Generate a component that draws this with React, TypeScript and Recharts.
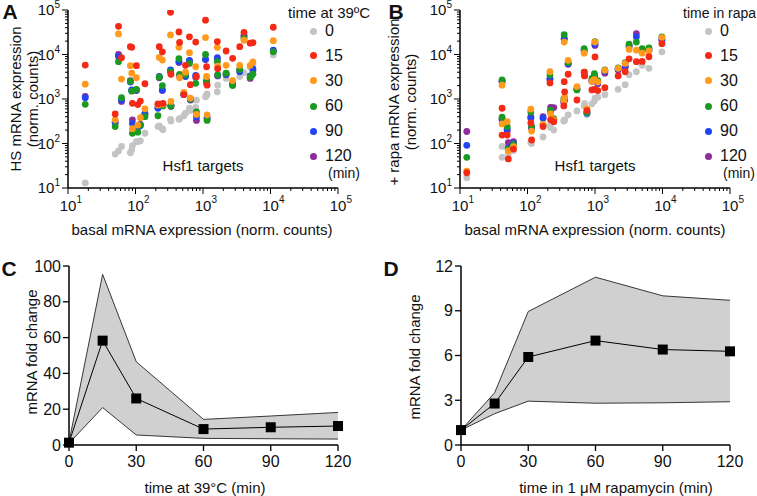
import React from 'react';
import { ScatterChart, Scatter, XAxis, YAxis, ComposedChart, Area, Line } from 'recharts';

const FONT = '"Liberation Sans", Arial, Helvetica, sans-serif';

// legend / series
const timeLabels = ['0', '15', '30', '60', '90', '120'];
const seriesColors = ['#c4c4c4', '#f42a16', '#ff9a1c', '#1a9a22', '#1f45f5', '#8e2c9c'];
// draw order: gray underneath, red on top
const drawOrder = [0, 5, 4, 3, 2, 1];

// A: heat shock, Hsf1 targets (basal vs HS expression)
const basalA = [18, 50, 56, 62, 84, 88, 90, 103, 108, 118, 138, 215, 225, 250, 255, 330, 335, 440, 450, 520, 550, 630, 650, 780, 800, 1090, 1130, 1150, 1630, 1650, 2200, 2750, 3500, 4050, 5000, 5500, 11000];
const hsA0 = [13, 58, 68, 86, 62, 72, 90, 110, 110, 115, 170, 240, 250, 215, 205, 350, 320, 350, 360, 420, 480, 620, 550, 650, 940, 1120, 1200, 1300, 1450, 2050, 2900, 2600, 3200, 3900, 5200, 6000, 9800];
const hsA15 = [5800, 460, 43000, 8500, 15000, 14500, 800, 5600, 750, 900, 2200, 780, 15000, 11500, 800, 89000, 3600, 32000, 18600, 1260, 5700, 25000, 2100, 19000, 3200, 59000, 5300, 2050, 19500, 4800, 12000, 8200, 15000, 31500, 18000, 18500, 41000];
const hsA30 = [2150, 340, 29000, 2800, 5600, 3800, 215, 3000, 260, 380, 600, 730, 8600, 7500, 760, 27500, 880, 14500, 3000, 1400, 4000, 11000, 1050, 5300, 450, 24000, 3200, 440, 14500, 5500, 5700, 2600, 5700, 21000, 5700, 6800, 20500];
const hsA60 = [760, 240, 6900, 1070, 2500, 1500, 170, 1650, 180, 260, 400, 420, 3100, 2000, 700, 4100, 700, 8100, 3550, 1300, 3500, 6300, 1000, 2250, 510, 10000, 2450, 330, 6900, 3500, 3800, 2000, 4600, 23000, 3100, 3600, 11500];
const hsA90 = [1070, 290, 9000, 950, 2400, 1600, 280, 1600, 240, 250, 460, 620, 3200, 1600, 720, 4500, 720, 7000, 3400, 1250, 3200, 7400, 980, 3400, 400, 7800, 2600, 380, 8500, 3400, 3600, 2100, 4100, 27000, 3300, 4800, 12500];
const hsA120 = [1150, 310, 10000, 880, 2600, 1550, 340, 1550, 230, 270, 470, 660, 3000, 1550, 740, 4300, 680, 6600, 3300, 1300, 3300, 7000, 950, 3100, 330, 7700, 2300, 360, 7800, 3300, 3500, 2200, 4500, 25000, 2900, 4300, 12000];

// B: rapamycin, Hsf1 targets
const basalB = [12.6, 42, 42, 50, 52, 62, 112, 115, 170, 215, 220, 245, 345, 350, 355, 400, 540, 690, 700, 760, 900, 980, 1000, 1100, 1400, 2200, 2800, 3200, 4100, 5000, 6300, 9800];
const rapaB0 = [17, 49, 86, 80, 59, 70, 105, 100, 140, 250, 230, 200, 320, 330, 340, 440, 540, 700, 800, 440, 780, 900, 1050, 1100, 1250, 1650, 2100, 3500, 4100, 5700, 4900, 11500];
const rapaB15 = [22, 155, 620, 155, 45, 75, 290, 120, 240, 2300, 340, 310, 700, 2450, 1450, 3600, 950, 4000, 3300, 550, 1600, 1650, 8800, 1550, 1800, 3300, 4100, 8000, 6900, 7000, 8900, 17500];
const rapaB30 = [24, 275, 2050, 310, 68, 85, 590, 190, 270, 4100, 460, 340, 900, 19000, 1100, 7400, 1900, 10700, 3800, 600, 2500, 2750, 19000, 2400, 4400, 4900, 6300, 13000, 12500, 10700, 12000, 24000];
const rapaB60 = [49, 390, 2700, 240, 75, 95, 510, 240, 265, 3500, 560, 360, 1000, 28000, 1000, 6500, 1600, 13500, 4000, 500, 2900, 3700, 19500, 2600, 4500, 5000, 6600, 17000, 19000, 13500, 14000, 25000];
const rapaB90 = [91, 340, 2500, 210, 80, 100, 370, 230, 370, 2900, 520, 340, 880, 23000, 1050, 6200, 1650, 12500, 3500, 480, 2600, 3300, 17000, 2300, 4200, 4700, 5500, 16000, 25000, 12700, 13000, 22000];
const rapaB120 = [186, 360, 2550, 190, 105, 110, 400, 220, 400, 2700, 650, 640, 850, 22000, 950, 6000, 1700, 12000, 3400, 520, 2500, 3200, 16000, 2200, 3800, 4500, 5200, 15000, 29500, 12800, 12500, 21000];

// C: heat shock fold change
const timeC = [0, 15, 30, 60, 90, 120];
const meanC = [1.3, 58.3, 26, 8.9, 9.9, 10.6];
const lowC = [1, 20.9, 5.6, 3.7, 3.5, 3.3];
const highC = [1.6, 95.3, 46.5, 14.3, 16.2, 18.2];

// D: rapamycin fold change
const timeD = [0, 15, 30, 60, 90, 120];
const meanD = [1.0, 2.78, 5.9, 7.0, 6.4, 6.28];
const lowD = [1.0, 2.1, 2.94, 2.8, 2.83, 2.9];
const highD = [1.0, 3.5, 8.95, 11.25, 10.0, 9.7];

const timeTicks = [0, 30, 60, 90, 120];
const ticksC = [0, 20, 40, 60, 80, 100];
const ticksD = [0, 3, 6, 9, 12];
const logMajor = [10, 100, 1000, 10000, 100000];
const logTicks = logMajor.flatMap((m, i) =>
  i === logMajor.length - 1 ? [m] : [1, 2, 3, 4, 5, 6, 7, 8, 9].map((k) => k * m)
);

const seriesA = [hsA0, hsA15, hsA30, hsA60, hsA90, hsA120];
const seriesB = [rapaB0, rapaB15, rapaB30, rapaB60, rapaB90, rapaB120];

const toPoints = (basal: number[], vals: number[]) => basal.map((x, i) => ({ x, y: vals[i] }));
const toRows = (t: number[], mean: number[], low: number[], high: number[]) =>
  t.map((v, i) => ({ t: v, mean: mean[i], band: [low[i], high[i]] }));

const isMajor = (v: number) => {
  const lg = Math.log10(v);
  return Math.abs(lg - Math.round(lg)) < 1e-6;
};

const LogXTick = (props: any) => {
  const { x, y, payload } = props;
  const major = isMajor(payload.value);
  const e = Math.round(Math.log10(payload.value));
  return (
    <g>
      <line x1={x} x2={x} y1={y} y2={y + (major ? 6 : 3)} stroke="#000" strokeWidth={1} />
      {major && (
        <g fill="#111">
          <text x={x} y={y + 23} textAnchor="middle" fontSize={15}>10</text>
          <text x={x + 8.5} y={y + 15} fontSize={10}>{e}</text>
        </g>
      )}
    </g>
  );
};

const LogYTick = (props: any) => {
  const { x, y, payload } = props;
  const major = isMajor(payload.value);
  const e = Math.round(Math.log10(payload.value));
  return (
    <g>
      <line x1={x} x2={x - (major ? 6 : 3)} y1={y} y2={y} stroke="#000" strokeWidth={1} />
      {major && (
        <text x={x - 8} y={y + 5} textAnchor="end" fontSize={15} fill="#111">
          <tspan>10</tspan>
          <tspan dy={-7} fontSize={10}>{e}</tspan>
        </text>
      )}
    </g>
  );
};

const SquareDot = (p: any) => (
  <rect key={`sq-${p.index}`} x={p.cx - 5} y={p.cy - 5} width={10} height={10} fill="#000" />
);

type TxtProps = {
  x: number;
  y: number;
  size?: number;
  bold?: boolean;
  rotate?: boolean;
  left?: boolean;
  lh?: number;
  children: React.ReactNode;
};

function Txt({ x, y, size = 15, bold, rotate, left, lh, children }: TxtProps) {
  return (
    <div
      style={{
        position: 'absolute',
        left: x,
        top: y,
        transform: `translate(${left ? '0' : '-50%'}, -50%)${rotate ? ' rotate(-90deg)' : ''}`,
        fontSize: size,
        fontWeight: bold ? 700 : 400,
        whiteSpace: 'pre',
        textAlign: 'center',
        lineHeight: lh ? `${lh}px` : 1.15,
        color: '#111',
      }}
    >
      {children}
    </div>
  );
}

function LogScatter({ basal, series, yAxisWidth, right }: { basal: number[]; series: number[][]; yAxisWidth: number; right: number }) {
  return (
    <ScatterChart width={yAxisWidth + 270 + right} height={218} margin={{ top: 10, right, bottom: 0, left: 0 }}>
      <XAxis
        dataKey="x"
        type="number"
        scale="log"
        domain={[10, 100000]}
        allowDataOverflow
        ticks={logTicks}
        interval={0}
        tick={<LogXTick />}
        tickLine={false}
        tickSize={0}
        tickMargin={0}
        height={30}
        axisLine={{ stroke: '#000', strokeWidth: 1.5 }}
      />
      <YAxis
        dataKey="y"
        type="number"
        scale="log"
        domain={[10, 100000]}
        allowDataOverflow
        ticks={logTicks}
        interval={0}
        tick={<LogYTick />}
        tickLine={false}
        tickSize={0}
        tickMargin={0}
        width={yAxisWidth}
        axisLine={{ stroke: '#000', strokeWidth: 1.5 }}
      />
      {drawOrder.map((i) => (
        <Scatter
          key={timeLabels[i]}
          name={timeLabels[i]}
          data={toPoints(basal, series[i])}
          fill={seriesColors[i]}
          isAnimationActive={false}
          shape={(p: any) => <circle cx={p.cx} cy={p.cy} r={3.4} fill={seriesColors[i]} />}
        />
      ))}
    </ScatterChart>
  );
}

function FoldChart({ rows, yTicks, yMax, yAxisWidth, right }: { rows: any[]; yTicks: number[]; yMax: number; yAxisWidth: number; right: number }) {
  return (
    <ComposedChart width={yAxisWidth + 269 + right} height={220} data={rows} margin={{ top: 16, right, bottom: 0, left: 0 }}>
      <XAxis
        dataKey="t"
        type="number"
        domain={[0, 120]}
        ticks={timeTicks}
        interval={0}
        height={25}
        tickSize={6}
        tickMargin={5}
        tick={{ fontSize: 16, fill: '#111' }}
        tickLine={{ stroke: '#000', strokeWidth: 1.3 }}
        axisLine={{ stroke: '#000', strokeWidth: 1.5 }}
      />
      <YAxis
        type="number"
        domain={[0, yMax]}
        ticks={yTicks}
        interval={0}
        width={yAxisWidth}
        tickSize={6}
        tickMargin={2}
        tick={{ fontSize: 16, fill: '#111' }}
        tickLine={{ stroke: '#000', strokeWidth: 1.3 }}
        axisLine={{ stroke: '#000', strokeWidth: 1.5 }}
      />
      <Area
        dataKey="band"
        type="linear"
        stroke="#222"
        strokeWidth={0.9}
        fill="#d0d0d0"
        fillOpacity={1}
        isAnimationActive={false}
        activeDot={false}
      />
      <Line
        dataKey="mean"
        type="linear"
        stroke="#000"
        strokeWidth={1}
        dot={SquareDot}
        activeDot={false}
        isAnimationActive={false}
      />
    </ComposedChart>
  );
}

function Legend({ x, title, titleSize }: { x: number; title: string; titleSize: number }) {
  const rows = [31, 55.5, 80.5, 106, 131, 156];
  return (
    <>
      <Txt x={x} y={13} left size={titleSize}>{title}</Txt>
      {timeLabels.map((t, i) => (
        <React.Fragment key={t}>
          <div
            style={{
              position: 'absolute',
              left: x + 25 - 3.5,
              top: rows[i] - 3.5,
              width: 7,
              height: 7,
              borderRadius: '50%',
              background: seriesColors[i],
            }}
          />
          <Txt x={x + 37} y={rows[i]} left size={16}>{t}</Txt>
        </React.Fragment>
      ))}
      <Txt x={x + 40} y={173} left size={14}>(min)</Txt>
    </>
  );
}

export default function App() {
  return (
    <div style={{ position: 'absolute', left: 0, top: 0, width: 757, height: 496, background: '#fff', fontFamily: FONT, overflow: 'hidden' }}>
      <div style={{ position: 'absolute', left: 0, top: 0 }}>
        <LogScatter basal={basalA} series={seriesA} yAxisWidth={68} right={42} />
      </div>
      <div style={{ position: 'absolute', left: 378, top: 0 }}>
        <LogScatter basal={basalB} series={seriesB} yAxisWidth={82} right={27} />
      </div>
      <div style={{ position: 'absolute', left: 0, top: 250 }}>
        <FoldChart rows={toRows(timeC, meanC, lowC, highC)} yTicks={ticksC} yMax={100} yAxisWidth={69} right={42} />
      </div>
      <div style={{ position: 'absolute', left: 378, top: 250 }}>
        <FoldChart rows={toRows(timeD, meanD, lowD, highD)} yTicks={ticksD} yMax={12} yAxisWidth={83} right={27} />
      </div>

      <Txt x={10} y={12} size={21} bold>A</Txt>
      <Txt x={396} y={12} size={21} bold>B</Txt>
      <Txt x={9} y={269} size={21} bold>C</Txt>
      <Txt x={391} y={269} size={21} bold>D</Txt>

      <Txt x={23.5} y={99} rotate lh={17}>{'HS mRNA expression\n(norm. counts)'}</Txt>
      <Txt x={402} y={102} rotate lh={17}>{'+ rapa mRNA expression\n(norm. counts)'}</Txt>
      <Txt x={202} y={230}>basal mRNA expression (norm. counts)</Txt>
      <Txt x={595} y={230}>basal mRNA expression (norm. counts)</Txt>
      <Txt x={203} y={166}>Hsf1 targets</Txt>
      <Txt x={595} y={166}>Hsf1 targets</Txt>

      <Legend x={288} title="time at 39ºC" titleSize={15} />
      <Legend x={683} title="time in rapa" titleSize={14} />

      <Txt x={32} y={352} rotate>mRNA fold change</Txt>
      <Txt x={415} y={357} rotate>mRNA fold change</Txt>
      <Txt x={205} y={488}>time at 39°C (min)</Txt>
      <Txt x={616} y={488}>time in 1 μM rapamycin (min)</Txt>
    </div>
  );
}
